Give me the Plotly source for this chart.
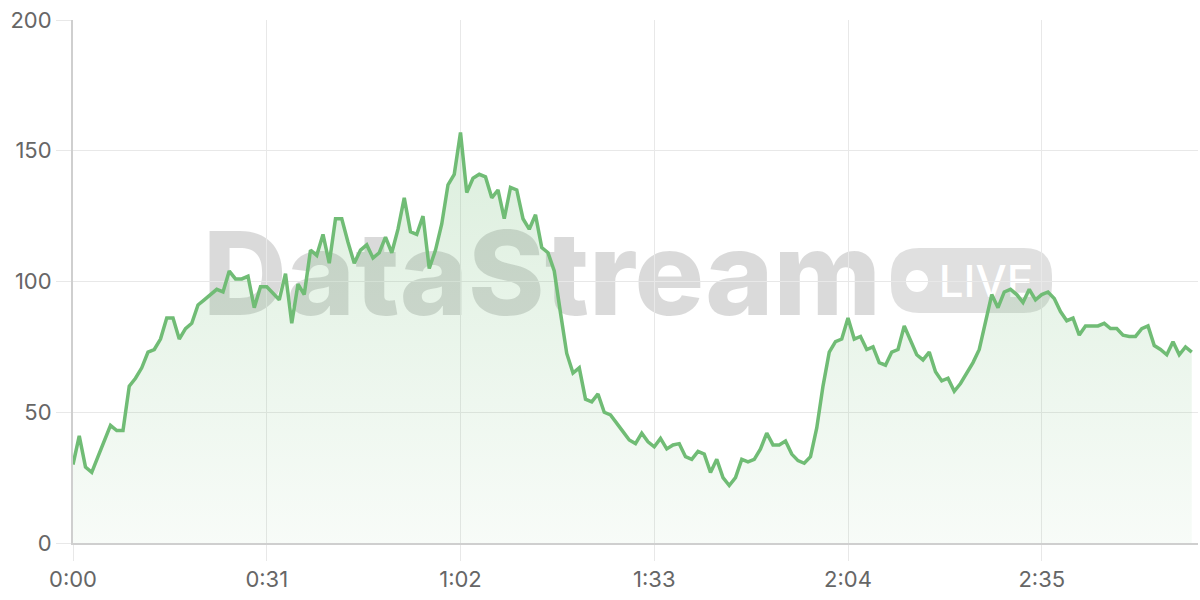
import plotly.graph_objects as go

# ---- data ----
seconds = list(range(180))
values = [
    30, 41, 29, 27, 33, 39, 45, 43, 43, 60,
    63, 67, 73, 74, 78, 86, 86, 78, 82, 84,
    91, 93, 95, 97, 96, 104, 101, 101, 102, 90,
    98, 98, 95.5, 93, 103, 84, 99, 95, 112, 110,
    118, 107, 124, 124, 115, 107, 112, 114, 109, 111,
    117, 111, 120, 132, 119, 118, 125, 105, 112, 122,
    137, 141, 157, 134, 139.5, 141, 140, 132, 135, 124,
    136, 135, 124, 120, 125.5, 113, 111, 104, 88, 72.5,
    65, 67, 55, 54, 57, 50, 49, 46, 42.6, 39.4,
    38, 42, 38.7, 36.8, 40, 36, 37.5, 38, 33, 32,
    35, 34, 27, 32, 25, 22, 25, 32, 31, 32,
    36, 42, 37.5, 37.5, 39, 34, 31.5, 30.5, 33, 44,
    60, 73, 77, 78, 86, 78, 79, 74, 75, 69,
    68, 73, 74, 83, 77.5, 72, 70, 73, 65.5, 62,
    63, 58, 61, 65, 69, 74, 85, 95, 90, 96,
    97, 95, 92, 97, 93, 95, 96, 93.5, 88.5, 85,
    86, 79.5, 83, 83, 83, 84, 82, 82, 79.5, 79,
    79, 82, 83, 75.5, 74, 72, 77, 72, 75, 73,
]
tick_values = [0, 31, 62, 93, 124, 155]
tick_labels = ["0:00", "0:31", "1:02", "1:33", "2:04", "2:35"]
y_ticks = [0, 50, 100, 150, 200]

LINE = "rgb(112,188,117)"
GRID = "#e8e8e8"
AXIS = "#cfcfcf"
TXT = "#666666"
FONT = "Inter, Roboto, sans-serif"

fig = go.Figure()
fig.add_trace(go.Scatter(
    x=seconds, y=values, mode="lines",
    line=dict(color=LINE, width=3.5),
    fill="tozeroy",
    fillgradient=dict(type="vertical",
                      colorscale=[[0, "rgba(108,186,114,0.05)"],
                                  [1, "rgba(108,186,114,0.24)"]]),
    hoverinfo="skip", showlegend=False,
))

# plot-area pixel helpers for watermark placement
L, R, T, B = 73, 1198, 20, 543
def px(x):
    return (x - L) / (R - L)
def py(y):
    return (B - y) / (B - T)

WM = "rgba(0,0,0,0.145)"
shapes = []
# "DataStream" text
shapes.append(dict(type="rect", xref="paper", yref="paper", layer="below",
                   x0=px(192), x1=px(892), y0=py(329), y1=py(209),
                   line=dict(width=0), fillcolor="rgba(0,0,0,0)",
                   label=dict(text="DataStream", textposition="middle center",
                              font=dict(family="Inter", size=116, color=WM, weight=800))))
# LIVE badge (rounded)
bx0, bx1, by0, by1, r = 891, 1052, 248, 313, 28
path = (f"M {px(bx0+r)},{py(by0)} L {px(bx1-r)},{py(by0)} "
        f"Q {px(bx1)},{py(by0)} {px(bx1)},{py(by0+r)} "
        f"L {px(bx1)},{py(by1-r)} Q {px(bx1)},{py(by1)} {px(bx1-r)},{py(by1)} "
        f"L {px(bx0+r)},{py(by1)} Q {px(bx0)},{py(by1)} {px(bx0)},{py(by1-r)} "
        f"L {px(bx0)},{py(by0+r)} Q {px(bx0)},{py(by0)} {px(bx0+r)},{py(by0)} Z")
shapes.append(dict(type="path", xref="paper", yref="paper", layer="below",
                   path=path, fillcolor="rgba(0,0,0,0.12)", line=dict(width=0)))
shapes.append(dict(type="circle", xref="paper", yref="paper", layer="below",
                   x0=px(906), x1=px(928), y0=py(292), y1=py(270),
                   fillcolor="white", line=dict(width=0)))
shapes.append(dict(type="rect", xref="paper", yref="paper", layer="below",
                   x0=px(936), x1=px(1036), y0=py(300), y1=py(260),
                   line=dict(width=0), fillcolor="rgba(0,0,0,0)",
                   label=dict(text="LIVE", textposition="middle center",
                              font=dict(family="Inter", size=44, color="white", weight=500))))

fig.update_layout(
    width=1200, height=600,
    margin=dict(l=L, r=1200 - R, t=T, b=600 - B),
    paper_bgcolor="white", plot_bgcolor="white",
    font=dict(family=FONT, size=22, color=TXT),
    shapes=shapes,
    xaxis=dict(range=[0, 180], tickmode="array", tickvals=tick_values, ticktext=tick_labels,
               showgrid=True, gridcolor=GRID, gridwidth=1,
               ticks="outside", ticklen=16, tickcolor=GRID, tickwidth=1,
               showline=True, linecolor=AXIS, linewidth=2, zeroline=False,
               tickfont=dict(size=22, color=TXT, family=FONT)),
    yaxis=dict(range=[0, 200], tickmode="array", tickvals=y_ticks,
               showgrid=True, gridcolor=GRID, gridwidth=1,
               ticks="outside", ticklen=15, tickcolor=GRID, tickwidth=1,
               showline=True, linecolor=AXIS, linewidth=2, zeroline=False,
               tickfont=dict(size=22, color=TXT, family=FONT)),
)

fig.write_html("out.html", config={"displayModeBar": False},
               post_script="document.body.style.margin='0';document.body.style.overflow='hidden';")
